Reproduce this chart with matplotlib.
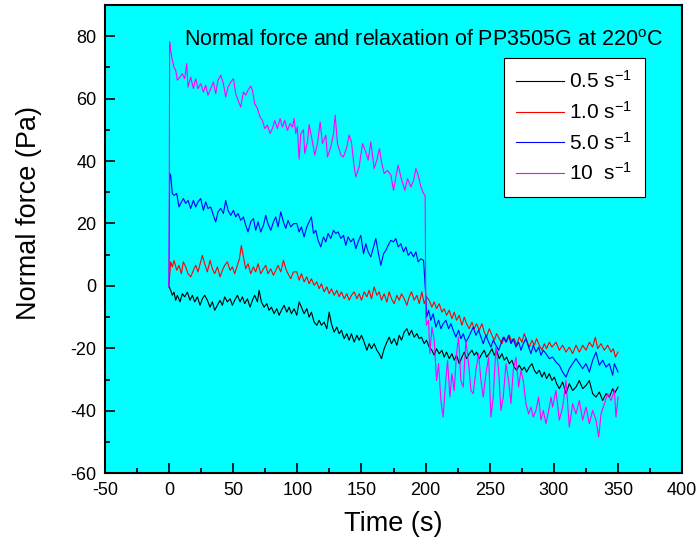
import numpy as np
import matplotlib
matplotlib.use("Agg")
import matplotlib.pyplot as plt
from matplotlib.ticker import MultipleLocator

plt.rcParams["font.family"] = ["Liberation Sans", "DejaVu Sans"]
plt.rcParams["mathtext.fontset"] = "custom"
plt.rcParams["mathtext.rm"] = "Liberation Sans"
plt.rcParams["mathtext.it"] = "Liberation Sans:italic"
plt.rcParams["axes.unicode_minus"] = False

# ---------------------------------------------------------------- data
labels = ["0.5 s$^{-1}$", "1.0 s$^{-1}$", "5.0 s$^{-1}$", "10  s$^{-1}$"]
colors = ["black", "#ff0000", "#0000ff", "#ff00ff"]

t_05 = [0, 1.3, 2.6, 3.9, 5.2, 6.5, 8.6, 10.4, 12.2, 14.3, 16.4, 18.2, 20, 22.1, 24.2, 26, 27.8,
        29.9, 32, 33.8, 35.6, 37.7, 39.8, 41.6, 43.4, 45.5, 47.6, 49.4, 51.2, 53.3, 55.4, 57.2, 59,
        61.1, 63.2, 65, 66.8, 68.9, 70.2, 72, 74.1, 76.2, 78, 79.8, 81.9, 84, 85.8, 87.6, 89.7, 91.8,
        93.6, 95.4, 97.5, 99.6, 101.4, 103.2, 105.3, 107.4, 109.2, 111, 113.1, 115.2, 117, 118.8,
        120.9, 123, 124.8, 126.6, 128.7, 130.8, 132.6, 134.4, 136.5, 138.6, 140.4, 142.2, 144.3,
        146.4, 148.2, 150, 152.1, 154.2, 156, 157.8, 159.9, 162, 163.8, 165.6, 167.7, 169.8, 171.6,
        173.4, 175.5, 177.6, 179.4, 181.2, 183.3, 185.4, 187.2, 189, 191.1, 193.2, 195, 196.8,
        198.9, 200.7, 202.8, 204.9, 206.7, 208.5, 210.6, 212.7, 214.5, 216.3, 218.4, 220.5, 222.3,
        224.1, 226.2, 228.3, 230.1, 231.9, 234, 236.1, 237.9, 239.7, 241.8, 243.9, 245.7, 247.5,
        249.6, 251.7, 253.5, 255.3, 257.4, 259.5, 261.3, 263.1, 265.2, 267.3, 269.1, 270.9, 273,
        275.1, 276.9, 278.7, 280.8, 282.9, 284.7, 286.5, 288.6, 290.7, 292.5, 294.3, 296.4, 298.5,
        300.3, 302.1, 304.2, 306.8, 309.4, 312, 314.6, 317.2, 319.8, 322.4, 325, 327.6, 330.2,
        332.8, 335.4, 338, 340.6, 343.2, 345.8, 347.1, 350]
f_05 = [-0.3, -1.4, -3, -2, -4.6, -3, -5.1, -2.5, -3.5, -2, -4.6, -3, -5.1, -3.5, -6.2, -4.1, -3,
        -4.6, -6.8, -5.1, -7.8, -6.2, -4.6, -6.2, -3.5, -5.1, -4.1, -6.2, -4.6, -3, -5.1, -3.5, -5.7,
        -4.1, -6.8, -4.6, -3, -5.1, -1.4, -5.1, -6.8, -5.7, -7.8, -6.8, -8.9, -7.3, -9.4, -7.8, -6.2,
        -8.4, -6.8, -8.9, -7.3, -9.4, -5.1, -6.8, -8.9, -7.3, -10, -8.4, -11.6, -12.6, -11, -12.6,
        -11.6, -13.7, -8.4, -12.1, -14.8, -13.2, -15.3, -14.2, -16.9, -15.3, -17.4, -15.3, -18,
        -15.8, -17.4, -15.8, -18, -20.6, -18.5, -20.1, -18.5, -20.6, -21.7, -23.3, -20.1, -18, -16.4,
        -18.5, -16.9, -19, -15.8, -17.4, -14.8, -13.7, -15.8, -14.2, -16.4, -15.3, -16.9, -16.4,
        -18.5, -17.4, -19.6, -20.6, -22.2, -20.1, -21.7, -20.6, -22.8, -21.2, -23.3, -21.7, -23.8,
        -22.2, -24.9, -22.8, -21.2, -23.3, -21.7, -20.6, -22.2, -21.2, -23.3, -21.7, -20.6, -22.8,
        -21.7, -20.1, -22.2, -20.6, -23.3, -21.7, -23.8, -22.8, -24.9, -23.8, -26, -27, -25.4,
        -27, -26, -27.6, -26, -24.9, -27, -28.1, -27, -29.2, -27.6, -29.7, -28.1, -30.3,
        -29.2, -31.3, -32.9, -30.8, -34.5, -31.3, -33.5, -32.4, -30.3, -32.9, -31.9, -30.3, -34.5,
        -35.6, -34, -36.7, -34.5, -35.6, -32.9, -34.5, -32.4]

t_10 = [0, 1.3, 2.6, 3.9, 6, 7.8, 9.6, 11.2, 13, 14.8, 16.9, 19, 20.8, 22.6, 24.7, 26, 27.8, 29.9,
        32, 33.8, 35.6, 37.7, 39.8, 41.6, 43.4, 45.5, 47.6, 49.4, 51.2, 53.3, 54.9, 56.4, 58, 59.8,
        61.6, 63.7, 65.8, 67.6, 69.4, 71.5, 73.6, 75.4, 77.2, 79.3, 81.4, 83.2, 85, 87.1, 89.2, 91,
        92.8, 94.9, 97, 99.6, 101.4, 103.2, 105.3, 107.4, 109.2, 111, 113.1, 115.2, 117, 118.8,
        120.9, 123, 124.8, 126.6, 128.7, 130.8, 132.6, 134.4, 136.5, 138.6, 140.4, 142.2, 144.3,
        146.4, 148.2, 150, 152.1, 154.2, 156, 157.8, 159.9, 162, 163.8, 165.6, 167.7, 169.8, 171.6,
        173.4, 175.5, 177.6, 179.4, 181.2, 183.3, 185.4, 187.2, 189, 191.1, 193.2, 195, 197.1,
        198.9, 200.7, 202.8, 204.9, 206.7, 208.5, 210.6, 212.7, 214.5, 216.3, 218.4, 220.5, 222.3,
        224.1, 226.2, 228.3, 230.1, 231.9, 234, 236.1, 237.9, 239.7, 241.8, 243.9, 245.7, 247.5,
        249.6, 251.7, 253.5, 255.3, 257.4, 259.5, 261.3, 263.1, 265.2, 267.3, 269.1, 270.9, 273,
        275.1, 276.9, 278.7, 280.8, 282.9, 284.7, 286.5, 288.6, 290.7, 292.5, 294.3, 296.4, 298.5,
        301.6, 304.2, 306.8, 309.4, 312, 314.6, 317.2, 319.8, 322.4, 325, 327.6, 330.2, 332.3,
        334.1, 336.7, 339.3, 341.9, 344.5, 346.3, 347.9, 350]
f_10 = [0.2, 7.7, 6.1, 8.2, 5, 6.6, 3.9, 7.7, 6.1, 3.9, 2.9, 5, 6.6, 4.5, 7.7, 9.8, 7.1, 4.5,
        8.2, 5.5, 3.9, 6.1, 2.9, 5, 6.6, 7.7, 5, 6.1, 3.9, 6.6, 8.7, 13, 9.3, 5.5,
        7.1, 3.9, 6.1, 4.5, 7.1, 3.9, 5.5, 6.6, 3.9, 5.5, 3.4, 5, 6.6, 4.5, 8.2, 5.5,
        3.9, 2.3, 4.5, 4.5, 1.8, 3.9, 1.3, 2.9, 0.7, 2.3, 0.2, 1.3, -0.9, 0.7,
        -1.9, -0.3, -2.5, -0.9, -3, -1.4, -3.5, -1.9, -4.1, -2.5, -4.6, -3, -1.9,
        -4.1, -2.5, -4.6, -1.9, -3.5, -1.4, -4.1, -0.3, -3, -1.9, -4.6, -2.5, -5.2, -1.9,
        -4.1, -5.7, -3, -4.6, -2.5, -4.1, -6.2, -3.5, -1.9, -4.6, -3, -5.7, -1.9,
        -5.7, -3.5, -4.6, -6.8, -5.1, -7.3, -5.7, -8.4, -7.3, -9.4, -7.8, -10.5, -8.4,
        -11, -9.4, -12.6, -10, -12.1, -13.7, -11.6, -13.7, -12.1, -14.2, -12.1, -14.8, -16.4,
        -13.7, -15.8, -17.4, -15.3, -16.9, -18.5, -16.4, -18, -15.8, -18, -16.9, -19, -16.4,
        -18, -15.3, -17.4, -19.6, -17.4, -19, -16.9, -19, -20.6, -18.5, -20.1, -18, -19.6,
        -18, -20.6, -19, -21.2, -19.6, -21.7, -19, -21.2, -19, -20.6, -18, -19.6, -16.4,
        -20.1, -18.5, -20.6, -19, -21.2, -20.1, -22.8, -21.2]

t_50 = [0, 0.5, 1.3, 2.6, 3.9, 6, 7.8, 9.1, 11.2, 13, 14.8, 16.9, 19, 20.8, 22.6, 24.7, 26.8,
        28.6, 30.4, 32.5, 34.6, 36.4, 38.2, 40.3, 42.4, 44.2, 46, 48.1, 50.2, 52, 53.8, 55.9, 58,
        59.8, 61.6, 63.7, 65.8, 67.6, 69.4, 71.5, 73.6, 75.4, 77.2, 79.3, 81.4, 83.2, 85, 87.1,
        89.2, 91, 92.8, 94.9, 97, 99.6, 101.4, 103.2, 105.3, 107.4, 109.2, 111, 112.6, 114.4,
        116.2, 118.3, 120.4, 122.2, 124, 126.1, 128.2, 130, 131.8, 133.9, 136, 137.8, 139.6,
        141.7, 143.8, 145.6, 147.4, 149.5, 151.6, 153.4, 155.2, 157.3, 159.4, 161.2, 163, 165.1,
        167.2, 169, 170.8, 172.9, 175, 176.8, 178.6, 180.7, 182.8, 184.6, 186.4, 188.5, 190.6,
        192.4, 194.2, 196.3, 198.4, 200.2, 200.8, 202.3, 204.1, 205.9, 208, 210.1, 211.9, 213.7,
        215.8, 217.9, 219.7, 221.5, 223.6, 225.7, 227.5, 229.3, 231.4, 233.5, 235.3, 237.1, 239.2,
        241.3, 243.1, 244.9, 247, 249.1, 250.9, 252.7, 254.8, 256.9, 258.7, 260.5, 262.6, 264.7,
        266.5, 268.3, 270.4, 272.5, 274.3, 276.1, 278.2, 280.3, 282.1, 283.9, 286, 288.1, 289.9,
        291.7, 293.8, 296.4, 299, 301.6, 304.2, 306.8, 309.4, 312, 314.6, 317.2, 319.8, 322.4,
        325, 327.6, 330.2, 332.8, 335.4, 338, 340.6, 343.2, 345.8, 347.1, 350]
f_50 = [0, 36, 35.4, 29.6, 29, 29.6, 25.3, 26.4, 28, 26.4, 27.4, 24.8, 27.4, 25.3, 26.9, 28, 24.2,
        26.9, 24.8, 25.3, 22.6, 20.5, 23.7, 24.8, 23.2, 27.4, 24.2, 22.6, 24.2, 22.1, 23.2, 21, 22.1,
        19.4, 17.3, 20.5, 21.6, 17.8, 20.5, 17.3, 19.4, 22.6, 19.9, 17.8, 20.5, 22.1, 18.9, 23.7,
        20.5, 18.4, 21, 18.9, 19.9, 20, 17.3, 18.9, 15.7, 18.9, 20.5, 22.1, 16.8, 17.8,
        14.6, 12.5, 15.7, 14.1, 16.8, 15.2, 17.8, 16.8, 17.3, 15.2, 16.2, 13, 15.7,
        14.1, 15.2, 11.9, 14.1, 16.2, 10.3, 13.5, 10.9, 9.3, 12.5, 15.2, 10.9, 6.6,
        10.3, 11.4, 13, 14.6, 14.1, 15.2, 12.5, 13.5, 10.9, 12.5, 9.8, 10.9, 9.3,
        10.9, 7.7, 8.7, 8.2, -3.5, -10, -7.8, -11, -8.9, -13.2, -11, -13.7, -12.1,
        -11, -13.7, -12.1, -14.2, -16.4, -14.2, -16.9, -15.3, -18, -16.4, -14.8, -13.2, -15.8,
        -14.2, -16.4, -18.5, -15.8, -18, -19.6, -17.4, -19, -20.6, -18.5, -16.4, -18, -15.8,
        -18.5, -16.9, -19.6, -18, -20.6, -18.5, -16.9, -19.6, -21.7, -19, -21.2, -19.6, -22.2,
        -20.6, -21.7, -23.3, -22.8, -24.4, -25.4, -27.6, -29.2, -26.5, -24.9, -23.3, -24.9, -26.5,
        -24.9, -27.6, -23.8, -21.2, -25.4, -23.8, -26, -24.9, -28.6, -24.9, -27.6]

t_100 = [0, 0.5, 1.3, 2.6, 3.9, 5.2, 6.5, 8.6, 10.4, 12.2, 13.8, 14.8, 16.9, 19, 20.8, 22.6, 24.7,
         26.8, 28.6, 30.4, 32.5, 34.6, 36.4, 38.2, 40.3, 42.4, 44.2, 46, 48.1, 50.2, 52, 53.8, 55.9,
         58, 59.8, 61.6, 63.7, 65, 66.8, 68.9, 71, 72.8, 74.6, 76.7, 78.8, 80.6, 82.4, 84.5, 86.6,
         88.4, 90.2, 92.3, 94.4, 96.2, 97.5, 98.8, 100, 101.4, 102.7, 104.8, 105.8, 107.9, 109.2,
         111.8, 113.6, 115.7, 117.8, 119.6, 122.2, 123.5, 126.1, 128.2, 129.5, 131.3, 133.9, 136,
         138.6, 140.4, 142.2, 144.3, 145.6, 148.2, 150.8, 153.4, 155.2, 157.3, 159.9, 162, 164,
         165.6, 167.7, 170.3, 172.9, 175, 176.8, 178.6, 180.7, 183.8, 185.9, 188.5, 190.6, 192.4,
         194.2, 196.3, 198.4, 199.6, 200.2, 200.7, 202.3, 203.3, 204.9, 206.7, 208.5, 210.1, 211.9,
         213.7, 215.3, 217.1, 218.9, 220.5, 222.3, 224.1, 225.7, 227.5, 229.3, 231.4, 233.5, 235.3,
         237.1, 239.2, 241.3, 243.1, 244.9, 247, 249.1, 250.9, 252.7, 254.8, 256.9, 258.7, 260.5,
         262.6, 264.7, 266.5, 268.3, 270.4, 272.5, 274.3, 276.1, 278.2, 280.3, 282.1, 283.9, 286,
         288.1, 289.9, 291.7, 293.8, 295.9, 297.7, 299, 301.6, 304.2, 306.8, 309.4, 312, 314.6,
         317.2, 319.8, 322.4, 325, 327.6, 330.2, 332.8, 334.9, 336.7, 339.3, 341.9, 344.5, 347.1,
         348.4, 350]
f_100 = [0, 78.2, 75.5, 72.3, 70.1, 69.1, 65.9, 66.9, 68, 66.4, 71.2, 63.7, 66.9, 63.2, 66.4, 63.2,
         64.8, 62.1, 64.3, 61.1, 63.2, 65.3, 61.6, 65.9, 67.5, 64.8, 60.5, 63.7, 65.3, 66.4, 61.6,
         59.5, 57.3, 62.1, 61.1, 62.7, 64, 62.7, 58.4, 56.8, 54.1, 53, 50.4, 51.5, 48.8, 50.4, 53,
         50.4, 53.6, 50.9, 53, 49.8, 52, 50.9, 53.6, 48.8, 51, 40.6, 48.8, 50, 42.4, 46.1, 51.7,
         46.1, 41.9, 45.6, 52.5, 45.6, 48.3, 41.3, 44.5, 48.8, 54.7, 45.6, 41.9, 41.3, 44.5, 48.3,
         46.1, 38.1, 34.9, 38.1, 45.6, 42.9, 40.3, 46.1, 37.6, 40.3, 44, 39.7, 36, 37, 35.5, 30.6,
         34.9, 38.7, 34.9, 30.6, 34.4, 31.7, 33.8, 37.6, 35.5, 31.7, 29.6, 29, -10, -12.6, -11,
         -21.7, -13.2, -17.4, -30.3, -24.9, -36.7, -42, -32.4, -23.8, -35.6, -28.1, -33.5, -21.7,
         -16.4, -30.3, -32.4, -17.4, -24.9, -33.5, -34.5, -27, -21.7, -30.3, -35.6, -28.1, -22.8,
         -42, -35.6, -19.6, -27, -39.9, -35.6, -24.9, -30.3, -37.7, -27, -22.8, -32.4, -27, -30.3,
         -37.7, -41, -38.8, -42, -39.9, -35.6, -43, -39.9, -44.1, -39.9, -35.6, -38.8, -33.5, -43,
         -38.8, -30.3, -45.2, -37.7, -41, -36.7, -43, -38.8, -44.1, -39.9, -43, -48.4, -41, -37.7,
         -34.5, -36.7, -33.5, -42, -35.6]

series = [(t_05, f_05), (t_10, f_10), (t_50, f_50), (t_100, f_100)]

# ---------------------------------------------------------------- figure
fig = plt.figure(figsize=(6.99, 5.49), dpi=100)
ax = fig.add_axes([0.150, 0.138, 0.826, 0.853])
ax.set_facecolor("#00ffff")

for (t, f), lab, c in zip(series, labels, colors):
    ax.plot(t, f, color=c, lw=0.8, label=lab)

ax.set_xlim(-50, 400)
ax.set_ylim(-60, 90)
ax.xaxis.set_major_locator(MultipleLocator(50))
ax.xaxis.set_minor_locator(MultipleLocator(25))
ax.yaxis.set_major_locator(MultipleLocator(20))
ax.yaxis.set_minor_locator(MultipleLocator(10))
ax.tick_params(which="both", direction="in", top=False, right=False, labelsize=13, width=1.2)
ax.tick_params(which="major", length=7, pad=6)
ax.tick_params(which="minor", length=3.5)
for s in ax.spines.values():
    s.set_linewidth(1.5)

ax.set_xlabel("Time (s)", fontsize=19.5, labelpad=9)
ax.set_ylabel("Normal force (Pa)", fontsize=19.5)
ax.yaxis.set_label_coords(-0.108, 0.556)

ax.text(0.551, 0.923, "Normal force and relaxation of PP3505G at 220$^{\\rm o}$C",
        transform=ax.transAxes, ha="center", va="center", fontsize=15.5)

leg = ax.legend(loc="upper right", bbox_to_anchor=(0.936, 0.887), fontsize=15,
                fancybox=False, framealpha=1, edgecolor="black", handlelength=2.3,
                handletextpad=0.25, labelspacing=0.42, borderpad=0.6, borderaxespad=0)
leg.get_frame().set_linewidth(0.8)

fig.savefig("out.png", dpi=100)
